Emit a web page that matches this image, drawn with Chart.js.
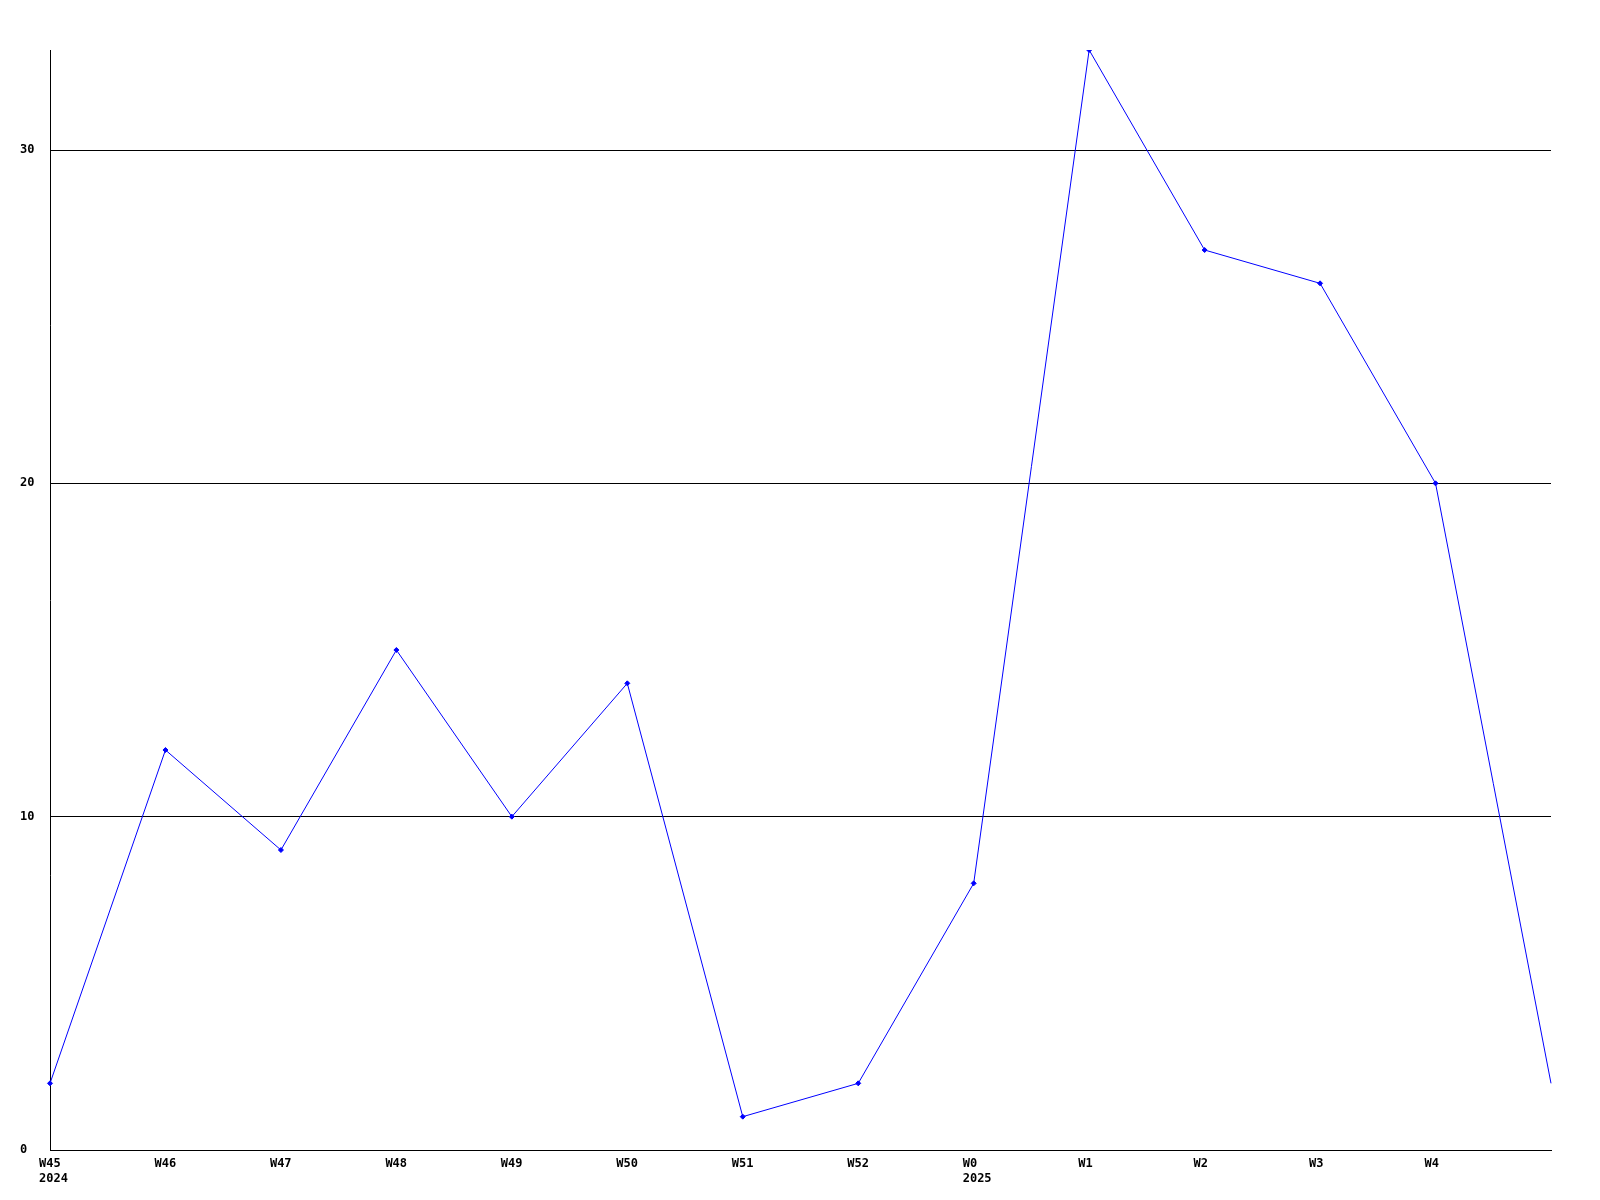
<!DOCTYPE html>
<html lang="en">
<head>
<meta charset="UTF-8">
<script src="https://cdn.jsdelivr.net/npm/chart.js"></script>
<title>Weekly chart</title>
<style>
  html, body { margin: 0; padding: 0; background: #fff; }
  #wrap { width: 1600px; height: 1200px; }
</style>
</head>
<body>
<div id="wrap"><canvas id="weekly-chart"></canvas></div>
<script>
// week labels (second line = year where it changes)
const weeks = [['W45', '2024'], 'W46', 'W47', 'W48', 'W49', 'W50', 'W51', 'W52', ['W0', '2025'], 'W1', 'W2', 'W3', 'W4', ''];
const counts = [2, 12, 9, 15, 10, 14, 1, 2, 8, 33, 27, 26, 20, 2];
const yTicks = [0, 10, 20, 30];
const yMax = 33;

const tickFont = { family: '"DejaVu Sans Mono", "Liberation Mono", monospace', size: 12, weight: 'bold', lineHeight: 1.25 };

// the last point has no marker in the original
const markerSizes = counts.map((v, i) => i === counts.length - 1 ? 0 : 2.5);

const ctx = document.getElementById('weekly-chart').getContext('2d');
new Chart(ctx, {
    type: 'line',
    data: {
        labels: weeks,
        datasets: [{
            data: counts,
            borderColor: '#0000ff',
            backgroundColor: '#0000ff',
            borderWidth: 1,
            fill: false,
            tension: 0,
            pointStyle: 'rectRot',
            pointRadius: markerSizes,
            pointBorderWidth: 1
        }]
    },
    options: {
        responsive: true,
        maintainAspectRatio: false,
        animation: false,
        layout: { padding: { left: 20, right: 49, top: 50, bottom: 0 } },
        plugins: { legend: { display: false }, tooltip: { enabled: false } },
        scales: {
            x: {
                grid: { display: false, drawTicks: false },
                border: { display: true, color: '#000', width: 1 },
                ticks: {
                    color: '#000',
                    font: tickFont,
                    autoSkip: false,
                    maxRotation: 0,
                    align: 'start',
                    labelOffset: -11,
                    padding: 6
                },
                afterFit: s => { s.height = 50; }
            },
            y: {
                min: 0,
                max: yMax,
                grid: { color: '#000', lineWidth: 1, drawTicks: false },
                border: { display: true, color: '#000', width: 1 },
                ticks: {
                    color: '#000',
                    font: tickFont,
                    crossAlign: 'far',
                    padding: 0
                },
                afterBuildTicks: s => { s.ticks = yTicks.map(v => ({ value: v })); },
                afterFit: s => { s.width = 30; }
            }
        }
    }
});
</script>
</body>
</html>
